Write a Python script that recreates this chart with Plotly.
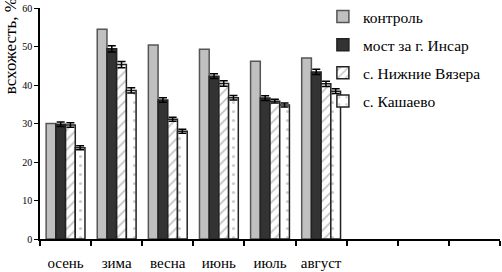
import plotly.graph_objects as go

categories = ["осень", "зима", "весна", "июнь", "июль", "август"]
blank_cats = [" ", "  ", "   "]
series_names = ["контроль", "мост за г. Инсар", "с. Нижние Вязера", "с. Кашаево"]
kontrol = [30.0, 54.5, 50.4, 49.3, 46.2, 47.0]
most = [29.8, 49.4, 36.1, 42.3, 36.6, 43.4]
nizhnie = [29.6, 45.3, 31.1, 40.4, 35.8, 40.3]
kashaevo = [23.7, 38.6, 28.0, 36.7, 34.8, 38.4]
err_kontrol = [0, 0, 0, 0, 0, 0]
err_most = [0.6, 0.8, 0.6, 0.6, 0.6, 0.7]
err_nizhnie = [0.6, 0.8, 0.5, 0.7, 0.5, 0.7]
err_kashaevo = [0.5, 0.7, 0.5, 0.6, 0.5, 0.6]

values = [kontrol, most, nizhnie, kashaevo]
errors = [err_kontrol, err_most, err_nizhnie, err_kashaevo]
fills = ["#c0c0c0", "#333333", "white", "white"]
patterns = [None, None, dict(shape="/", fgcolor="#888888", size=7, solidity=0.25),
            dict(shape=".", fgcolor="#999999", size=9, solidity=0.1)]

serif = "Times New Roman, Liberation Serif, DejaVu Serif, serif"
fig = go.Figure()
for i, (name, v, e) in enumerate(zip(series_names, values, errors)):
    marker = dict(color=fills[i], line=dict(color="#222222" if i != 0 else "#555555", width=1.5))
    if patterns[i]:
        marker["pattern"] = dict(**patterns[i], bgcolor="white")
    err = dict(type="data", array=e, visible=any(x > 0 for x in e), color="black", thickness=1.5, width=4)
    fig.add_trace(go.Bar(x=categories, y=v, name=name, marker=marker, error_y=err,
                         legendgroup=str(i)))

fig.update_layout(
    width=502, height=272,
    margin=dict(l=40, r=2, t=8, b=33, autoexpand=False),
    plot_bgcolor="white", paper_bgcolor="white",
    barmode="group", bargap=0.24, bargroupgap=0,
    font=dict(family=serif, size=14, color="black"),
    showlegend=True,
    legend=dict(x=0.615, y=1.035, xanchor="left", yanchor="top", bgcolor="rgba(0,0,0,0)",
                font=dict(family=serif, size=15.5), tracegroupgap=5, itemwidth=30),
    xaxis=dict(type="category", categoryorder="array", categoryarray=categories + blank_cats,
               range=[-0.5, 8.5], showline=True, linecolor="black", linewidth=1.5,
               ticks="outside", tickson="boundaries", ticklen=5, tickwidth=1.5, tickcolor="black",
               ticklabelstandoff=9,
               tickfont=dict(family=serif, size=15), showgrid=False, automargin=False),
    yaxis=dict(range=[0, 60], dtick=10, showline=True, linecolor="black", linewidth=1.5,
               ticks="outside", ticklen=4, tickcolor="black", showgrid=False, zeroline=False,
               tickfont=dict(family=serif, size=10), automargin=False),
    annotations=[dict(text="всхожесть, %", textangle=-90, xref="paper", yref="paper",
                      x=-0.065, y=0.835, xanchor="center", yanchor="middle", showarrow=False,
                      font=dict(family=serif, size=17))],
)
fig.write_html("out.html", config={"displayModeBar": False},
               post_script="document.body.style.margin='0';document.body.style.padding='0';")
